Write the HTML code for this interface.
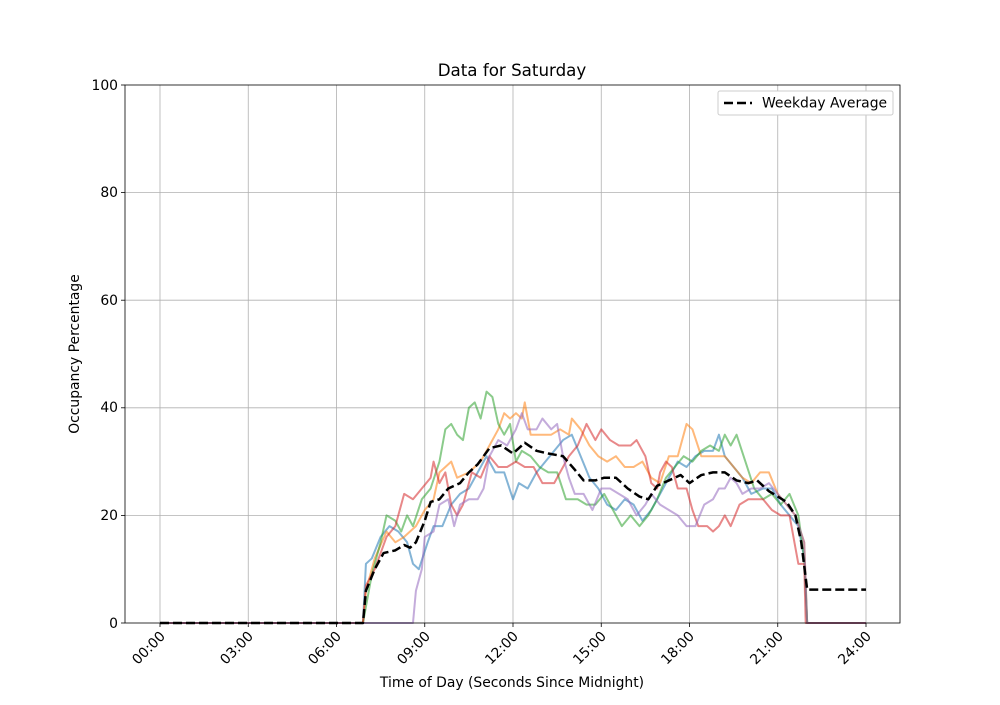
<!DOCTYPE html>
<html><head><meta charset="utf-8"><style>
body{margin:0;background:#fff;}
svg{font-family:"DejaVu Sans","Liberation Sans",sans-serif;}
</style></head><body>
<svg width="1000" height="700" viewBox="0 0 1000 700" xmlns="http://www.w3.org/2000/svg">
<rect width="1000" height="700" fill="#fff"/>
<g stroke="#b0b0b0" stroke-width="0.8">
<line x1="160" y1="85" x2="160" y2="623"/><line x1="248.25" y1="85" x2="248.25" y2="623"/><line x1="336.5" y1="85" x2="336.5" y2="623"/><line x1="424.75" y1="85" x2="424.75" y2="623"/><line x1="513" y1="85" x2="513" y2="623"/><line x1="601.25" y1="85" x2="601.25" y2="623"/><line x1="689.5" y1="85" x2="689.5" y2="623"/><line x1="777.75" y1="85" x2="777.75" y2="623"/><line x1="866" y1="85" x2="866" y2="623"/>
<line x1="125" y1="515.4" x2="900" y2="515.4"/><line x1="125" y1="407.8" x2="900" y2="407.8"/><line x1="125" y1="300.2" x2="900" y2="300.2"/><line x1="125" y1="192.6" x2="900" y2="192.6"/>
</g>
<g transform="translate(160,623) scale(29.4167,-5.38)" fill="none" stroke-width="2" stroke-linejoin="round">
<polyline vector-effect="non-scaling-stroke" stroke="#1f77b4" stroke-opacity="0.55" points="0,0 6.9,0 7.0,11 7.2,12 7.5,16 7.8,18 8.1,17 8.4,15 8.6,11 8.8,10 9.1,15 9.3,18 9.6,18 9.9,22 10.2,24 10.5,25 10.8,28 11.1,31 11.4,28 11.7,28 12.0,23 12.2,26 12.5,25 12.8,28 13.1,30 13.4,32 13.7,34 14.0,35 14.3,31 14.6,27 14.9,25 15.2,22 15.5,21 15.8,23 16.1,22 16.4,19 16.7,21 17.0,24 17.3,27 17.6,30 17.9,29 18.2,31 18.5,32 18.8,32 19.0,35 19.2,31 19.5,29 19.8,27 20.1,24 20.5,25 20.8,25 21.1,22 21.4,20 21.7,18 21.9,12 22.0,0 24,0"/>
<polyline vector-effect="non-scaling-stroke" stroke="#ff7f0e" stroke-opacity="0.55" points="0,0 6.9,0 7.0,6 7.3,12 7.7,17 8.0,15 8.3,16 8.7,18 9.0,21 9.3,23 9.5,28 9.9,30 10.1,27 10.5,28 10.9,30 11.2,33 11.5,36 11.7,39 11.9,38 12.1,39 12.3,38 12.4,41 12.6,35 13.0,35 13.3,35 13.6,36 13.9,35 14.0,38 14.3,36 14.6,33 14.9,31 15.2,30 15.5,31 15.8,29 16.1,29 16.4,30 16.7,27 17.0,26 17.3,31 17.6,31 17.9,37 18.1,36 18.4,31 18.8,31 19.2,31 19.5,29 19.8,27 20.1,26 20.4,28 20.7,28 21.0,24 21.3,22 21.6,20 21.9,15 22.0,0 24,0"/>
<polyline vector-effect="non-scaling-stroke" stroke="#2ca02c" stroke-opacity="0.55" points="0,0 6.9,0 7.2,9 7.5,15 7.7,20 8.0,19 8.2,17 8.4,20 8.6,18 8.9,23 9.2,25 9.5,30 9.7,36 9.9,37 10.1,35 10.3,34 10.5,40 10.7,41 10.9,38 11.1,43 11.3,42 11.5,37 11.7,35 11.9,37 12.1,30 12.3,32 12.6,31 12.9,29 13.2,28 13.5,28 13.8,23 14.2,23 14.5,22 14.8,22 15.1,24 15.4,21 15.7,18 16.0,20 16.3,18 16.6,20 16.9,23 17.2,27 17.5,29 17.8,31 18.1,30 18.4,32 18.7,33 19.0,32 19.2,35 19.4,33 19.6,35 19.9,30 20.2,25 20.5,23 20.8,24 21.1,22 21.4,24 21.7,20 21.9,12 22.0,0 24,0"/>
<polyline vector-effect="non-scaling-stroke" stroke="#d62728" stroke-opacity="0.55" points="0,0 6.9,0 7.0,7 7.3,10 7.7,16 8.0,18 8.3,24 8.6,23 8.9,25 9.2,27 9.3,30 9.5,26 9.7,28 9.9,22 10.1,20 10.3,22 10.6,28 10.9,27 11.2,31 11.5,29 11.8,29 12.1,30 12.4,29 12.7,29 13.0,26 13.4,26 13.6,28 13.9,31 14.2,33 14.5,37 14.8,34 15.0,36 15.3,34 15.6,33 16.0,33 16.2,34 16.5,31 16.7,26 16.9,25 17.0,28 17.2,30 17.4,29 17.6,25 17.9,25 18.1,21 18.3,18 18.6,18 18.8,17 19.0,18 19.2,20 19.4,18 19.7,22 20.0,23 20.5,23 20.8,21 21.1,20 21.4,20 21.7,11 21.9,11 21.95,0 24,0"/>
<polyline vector-effect="non-scaling-stroke" stroke="#9467bd" stroke-opacity="0.55" points="0,0 8.6,0 8.7,6 8.9,10 9.0,16 9.3,17 9.5,22 9.8,23 10.0,18 10.2,22 10.5,23 10.8,23 11.0,25 11.2,31 11.5,34 11.8,33 12.1,36 12.3,39 12.5,36 12.8,36 13.0,38 13.3,36 13.5,37 13.7,31 13.9,27 14.1,24 14.4,24 14.7,21 15.0,25 15.3,25 15.6,24 15.9,23 16.2,20 16.5,22 16.7,24 17.0,22 17.3,21 17.6,20 17.9,18 18.2,18 18.5,22 18.8,23 19.0,25 19.2,25 19.4,27 19.6,26 19.8,24 20.1,25 20.4,25 20.7,26 21.0,24 21.3,22 21.6,20 21.9,15 22.0,0 24,0"/>
<polyline vector-effect="non-scaling-stroke" stroke="#000" stroke-width="2.5" stroke-dasharray="9,4" points="0,0 6.9,0 7.0,6 7.3,10 7.6,13 8.0,13.5 8.3,14.5 8.5,14 8.7,15 9.0,19 9.2,22.5 9.5,23 9.8,25 10.2,26 10.5,28 10.8,29.5 11.2,32.5 11.6,33 12.0,31.5 12.4,33.5 12.8,32 13.2,31.5 13.7,31 14.1,28.5 14.4,26.5 14.8,26.5 15.1,27 15.5,27 15.9,25 16.3,23.5 16.6,23 16.9,25.5 17.3,26.5 17.7,27.5 18.0,26 18.4,27.5 18.8,28 19.2,28 19.6,26.5 20.0,26 20.3,26.5 20.7,24.5 21.0,23.5 21.3,22.5 21.6,20 21.8,15 22.0,6.2 24,6.2"/>
</g>
<rect x="125" y="85" width="775" height="538" fill="none" stroke="#000" stroke-width="0.8"/>
<g stroke="#000" stroke-width="0.8">
<line x1="160" y1="623" x2="160" y2="627"/><line x1="248.25" y1="623" x2="248.25" y2="627"/><line x1="336.5" y1="623" x2="336.5" y2="627"/><line x1="424.75" y1="623" x2="424.75" y2="627"/><line x1="513" y1="623" x2="513" y2="627"/><line x1="601.25" y1="623" x2="601.25" y2="627"/><line x1="689.5" y1="623" x2="689.5" y2="627"/><line x1="777.75" y1="623" x2="777.75" y2="627"/><line x1="866" y1="623" x2="866" y2="627"/>
<line x1="121" y1="623" x2="125" y2="623"/><line x1="121" y1="515.4" x2="125" y2="515.4"/><line x1="121" y1="407.8" x2="125" y2="407.8"/><line x1="121" y1="300.2" x2="125" y2="300.2"/><line x1="121" y1="192.6" x2="125" y2="192.6"/><line x1="121" y1="85" x2="125" y2="85"/>
</g>
<g font-size="13.9" text-anchor="end" fill="#000">
<text x="118" y="628">0</text><text x="118" y="520">20</text><text x="118" y="412">40</text><text x="118" y="305">60</text><text x="118" y="197">80</text><text x="118" y="90">100</text>
</g>
<g font-size="13.9" text-anchor="end" fill="#000">
<text transform="translate(166,637) rotate(-45)">00:00</text>
<text transform="translate(254,637) rotate(-45)">03:00</text>
<text transform="translate(342,637) rotate(-45)">06:00</text>
<text transform="translate(431,637) rotate(-45)">09:00</text>
<text transform="translate(519,637) rotate(-45)">12:00</text>
<text transform="translate(607,637) rotate(-45)">15:00</text>
<text transform="translate(695,637) rotate(-45)">18:00</text>
<text transform="translate(784,637) rotate(-45)">21:00</text>
<text transform="translate(872,637) rotate(-45)">24:00</text>
</g>
<text x="512" y="687" font-size="13.9" text-anchor="middle">Time of Day (Seconds Since Midnight)</text>
<text transform="translate(79,354) rotate(-90)" font-size="13.9" text-anchor="middle">Occupancy Percentage</text>
<text x="512" y="76" font-size="16.7" text-anchor="middle">Data for Saturday</text>
<rect x="718" y="91" width="175" height="24" rx="2" fill="#fff" stroke="#ccc" stroke-width="1"/>
<line x1="724" y1="103" x2="752" y2="103" stroke="#000" stroke-width="2.5" stroke-dasharray="9,4"/>
<text x="762" y="107.5" font-size="13.9">Weekday Average</text>
</svg>
</body></html>
